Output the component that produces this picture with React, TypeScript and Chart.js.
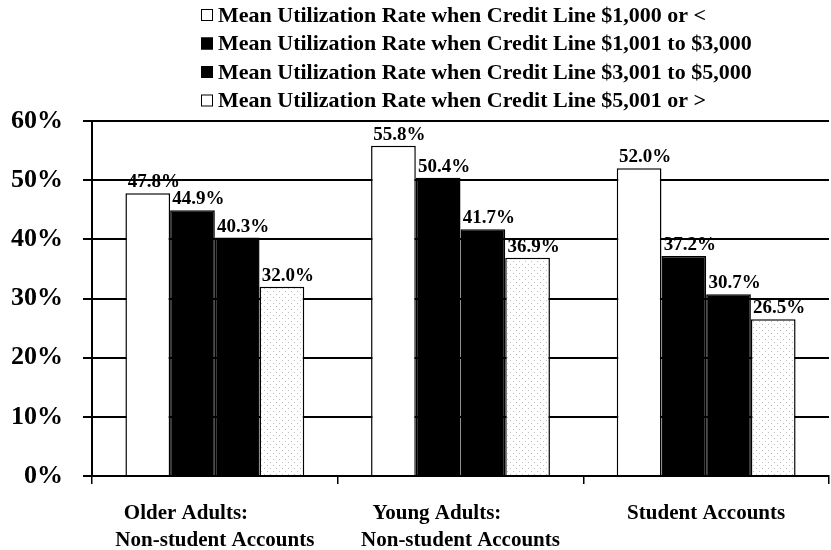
import { useEffect, useRef } from "react";
import { Chart, registerables } from "chart.js";

Chart.register(...registerables);

const FONT = '"Liberation Serif", "Times New Roman", serif';

const categories: (string | string[])[] = [
  ["Older Adults:           ", "Non-student Accounts"],
  ["Young Adults:         ", "Non-student Accounts"],
  "Student Accounts",
];

const seriesLabels = [
  "Mean Utilization Rate when Credit Line $1,000 or <",
  "Mean Utilization Rate when Credit Line $1,001 to $3,000",
  "Mean Utilization Rate when Credit Line $3,001 to $5,000",
  "Mean Utilization Rate when Credit Line $5,001 or >",
];

const under1000 = [47.8, 55.8, 52.0];
const from1001to3000 = [44.9, 50.4, 37.2];
const from3001to5000 = [40.3, 41.7, 30.7];
const over5001 = [32.0, 36.9, 26.5];

const yMin = 0;
const yMax = 60;
const yStep = 10;

function makeStipple(): CanvasPattern | string {
  const c = document.createElement("canvas");
  c.width = 6;
  c.height = 6;
  const g = c.getContext("2d");
  if (!g) return "#f6f6f6";
  g.fillStyle = "#ffffff";
  g.fillRect(0, 0, 6, 6);
  g.fillStyle = "#bdbdbd";
  g.fillRect(0, 0, 1, 1);
  g.fillRect(3, 3, 1, 1);
  return g.createPattern(c, "repeat") || "#f6f6f6";
}

const legendPlugin = {
  id: "customLegend",
  afterDraw(chart: any) {
    const ctx = chart.ctx;
    ctx.save();
    chart.data.datasets.forEach((ds: any, i: number) => {
      const y = 15 + i * 28.5;
      ctx.fillStyle = ds.legendFill;
      ctx.fillRect(201, y - 6, 12, 12);
      ctx.strokeStyle = "#000";
      ctx.lineWidth = 1;
      ctx.strokeRect(201.5, y - 5.5, 11, 11);
      ctx.fillStyle = "#000";
      ctx.font = `bold 22px ${FONT}`;
      ctx.textAlign = "left";
      ctx.textBaseline = "middle";
      ctx.fillText(ds.label, 218, y + 1);
    });
    ctx.restore();
  },
};

const valueLabelPlugin = {
  id: "valueLabels",
  afterDatasetsDraw(chart: any) {
    const ctx = chart.ctx;
    ctx.save();
    ctx.font = `bold 19px ${FONT}`;
    ctx.fillStyle = "#000";
    ctx.textAlign = "center";
    ctx.textBaseline = "alphabetic";
    chart.data.datasets.forEach((ds: any, di: number) => {
      const meta = chart.getDatasetMeta(di);
      meta.data.forEach((el: any, i: number) => {
        const v = ds.data[i] as number;
        ctx.fillText(v.toFixed(1) + "%", el.x + 6, el.y - 6);
      });
    });
    ctx.restore();
  },
};

export default function App() {
  const ref = useRef<HTMLCanvasElement | null>(null);

  useEffect(() => {
    if (!ref.current) return;
    const stipple = makeStipple();
    const common = {
      borderColor: "#000",
      borderWidth: 1.5,
      categoryPercentage: 0.728,
      barPercentage: 1.0,
    };
    const chart = new Chart(ref.current, {
      type: "bar",
      data: {
        labels: categories,
        datasets: [
          { ...common, label: seriesLabels[0], data: under1000, backgroundColor: "#ffffff", legendFill: "#ffffff" } as any,
          { ...common, label: seriesLabels[1], data: from1001to3000, backgroundColor: "#000000", legendFill: "#000000" } as any,
          { ...common, label: seriesLabels[2], data: from3001to5000, backgroundColor: "#000000", legendFill: "#000000" } as any,
          { ...common, label: seriesLabels[3], data: over5001, backgroundColor: stipple, legendFill: "#ffffff" } as any,
        ],
      },
      options: {
        animation: false,
        responsive: true,
        maintainAspectRatio: false,
        layout: { padding: { top: 121, right: 2, left: 0, bottom: 0 } },
        plugins: {
          legend: { display: false },
          tooltip: { enabled: false },
        },
        scales: {
          x: {
            grid: {
              display: true,
              drawOnChartArea: false,
              drawTicks: true,
              tickLength: 8,
              color: "#000",
              lineWidth: 1.5,
              offset: true,
            },
            border: { display: true, color: "#000", width: 2 },
            ticks: {
              color: "#000",
              font: { family: FONT, size: 21, weight: "bold", lineHeight: 1.28 },
              padding: 16,
              maxRotation: 0,
              autoSkip: false,
            },
            afterFit: (s: any) => {
              s.height = 74;
            },
          },
          y: {
            min: yMin,
            max: yMax,
            ticks: {
              stepSize: yStep,
              color: "#000",
              font: { family: FONT, size: 26, weight: "bold" },
              padding: 20,
              callback: (v: any) => `${v}%`,
            },
            grid: { color: "#000", lineWidth: 2, tickLength: 9 },
            border: { display: true, color: "#000", width: 2 },
            afterFit: (s: any) => {
              s.width = 92;
            },
          },
        },
      } as any,
      plugins: [legendPlugin, valueLabelPlugin],
    });
    return () => chart.destroy();
  }, []);

  return (
    <div style={{ position: "fixed", left: 0, top: 0, width: 831, height: 550, background: "#fff" }}>
      <canvas ref={ref} />
    </div>
  );
}
